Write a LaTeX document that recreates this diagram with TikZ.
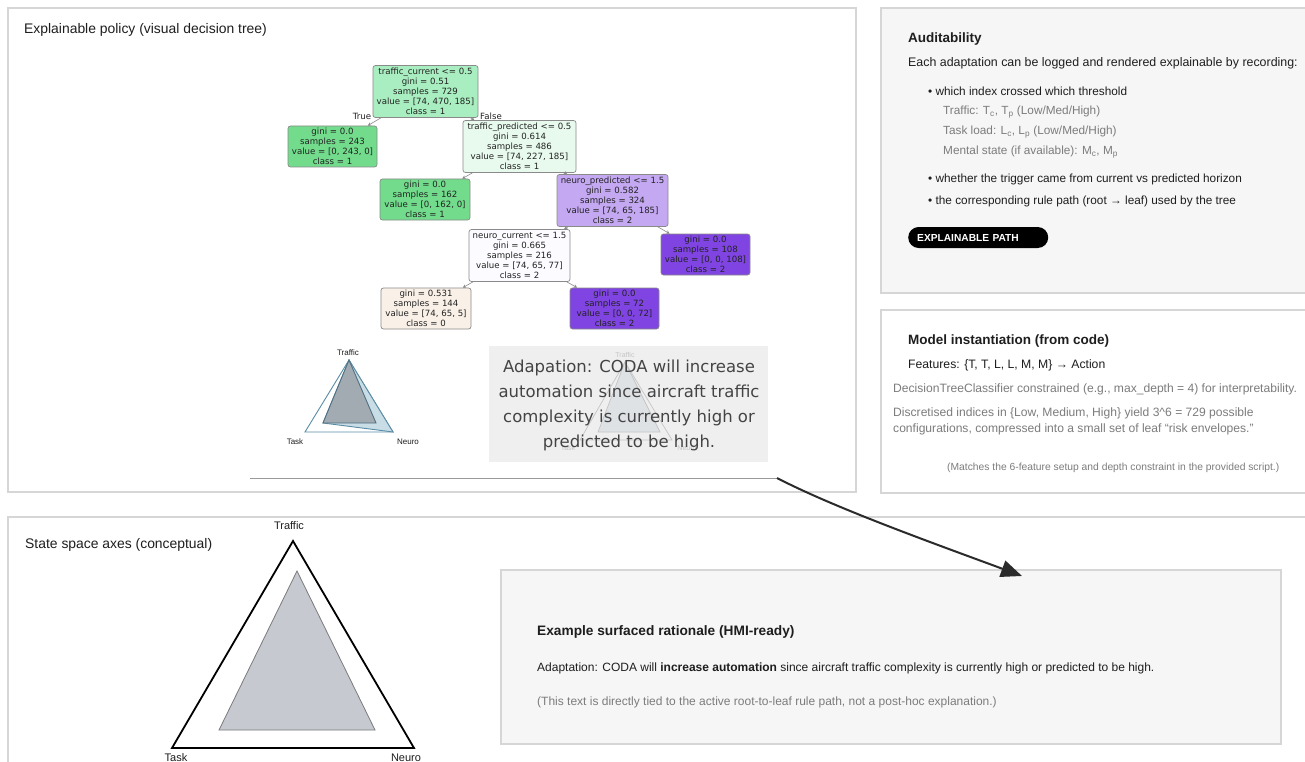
\documentclass[tikz,border=0pt]{standalone}
\usepackage{fontspec}
\setmainfont{Liberation Sans}
\newfontfamily\treefont{DejaVu Sans}
\usetikzlibrary{arrows.meta}
\definecolor{panelborder}{HTML}{D6D6D6}
\definecolor{panelfill}{HTML}{F6F6F6}
\definecolor{darktext}{HTML}{1E1E1E}
\definecolor{greytext}{HTML}{7C7C7C}
\definecolor{treeborder}{HTML}{8A8A8A}
\definecolor{treetext}{HTML}{222222}
\definecolor{leafgreen}{HTML}{72DC8C}
\definecolor{rootgreen}{HTML}{A9EEC0}
\definecolor{palegreen}{HTML}{E8FAEE}
\definecolor{lilac}{HTML}{C4A8F2}
\definecolor{offwhite}{HTML}{FCFBFF}
\definecolor{purpleleaf}{HTML}{8044E2}
\definecolor{beige}{HTML}{F9F0E8}
\definecolor{radarblue}{HTML}{5A8DA5}
\definecolor{radarfill}{HTML}{C9DDE6}
\definecolor{radargrey}{HTML}{A3ABB2}
\definecolor{radaredge}{HTML}{4F6F80}
\definecolor{overlayfill}{HTML}{EFEFEF}
\definecolor{overlaytext}{HTML}{444444}
\definecolor{ghost}{HTML}{C4C4C4}
\definecolor{ghostfill}{HTML}{DFE2E5}
\definecolor{statefill}{HTML}{C6CAD0}
\definecolor{stateedge}{HTML}{7A7A7A}
\definecolor{arrowdark}{HTML}{2B2B2B}
\definecolor{rulegrey}{HTML}{9A9A9A}
\begin{document}
\begin{tikzpicture}[x=1pt,y=-1pt,
  panel/.style={draw=panelborder, line width=1.6pt},
  treebox/.style={draw=treeborder, line width=0.7pt, rounded corners=2.5pt, inner sep=0pt, align=center, font=\treefont\fontsize{8.6}{9.9}\selectfont, text=treetext},
  decision/.style={treebox, minimum height=52pt},
  leafbox/.style={treebox, minimum height=41pt, minimum width=89pt},
  treeedge/.style={draw=treeborder, line width=0.6pt, -{Stealth[length=3.5pt,width=3.5pt]}},
  edgelabel/.style={inner sep=0pt, font=\treefont\fontsize{8.6}{9}\selectfont, text=treetext},
  txt/.style={anchor=west, inner sep=0pt, text=darktext},
  greytxt/.style={anchor=west, inner sep=0pt, text=greytext},
  paneltitle/.style={txt, font=\fontsize{13.9}{16}\selectfont},
  boldtitle/.style={txt, font=\bfseries\fontsize{13.5}{16}\selectfont},
  body/.style={txt, font=\fontsize{11.8}{14}\selectfont},
  radarlabel/.style={inner sep=0pt, font=\fontsize{8}{9}\selectfont, text=darktext},
  ghostlabel/.style={inner sep=0pt, font=\fontsize{7}{8}\selectfont, text=ghost},
  axislabel/.style={inner sep=0pt, font=\fontsize{11}{13}\selectfont, text=darktext}
]
\useasboundingbox (0,0) rectangle (1305,762);
\fill[white] (0,0) rectangle (1305,762);

% ---------- panels ----------
\draw[panel, fill=white] (8,8) rectangle (856,492);
\draw[panel, fill=panelfill] (881,8) rectangle (1312,293);
\draw[panel, fill=white] (881,310) rectangle (1312,493);
\draw[panel, fill=white] (8,517) rectangle (1312,775);

% ---------- top-left panel ----------
\node[paneltitle] (t1) at (24,30) {Explainable policy (visual decision tree)};

% decision tree
\node[decision, fill=rootgreen, minimum width=105pt] (root) at (425.5,91.5)
  {traffic\_current <= 0.5\\gini = 0.51\\samples = 729\\value = [74, 470, 185]\\class = 1};
\node[leafbox, fill=leafgreen] (leafA) at (332.5,146.5)
  {gini = 0.0\\samples = 243\\value = [0, 243, 0]\\class = 1};
\node[decision, fill=palegreen, minimum width=113pt] (tpred) at (519.5,146.5)
  {traffic\_predicted <= 0.5\\gini = 0.614\\samples = 486\\value = [74, 227, 185]\\class = 1};
\node[leafbox, fill=leafgreen, minimum width=90pt] (leafB) at (425,199.5)
  {gini = 0.0\\samples = 162\\value = [0, 162, 0]\\class = 1};
\node[decision, fill=lilac, minimum width=111pt] (npred) at (612.5,200.5)
  {neuro\_predicted <= 1.5\\gini = 0.582\\samples = 324\\value = [74, 65, 185]\\class = 2};
\node[decision, fill=offwhite, minimum width=101pt] (ncur) at (519.5,255.5)
  {neuro\_current <= 1.5\\gini = 0.665\\samples = 216\\value = [74, 65, 77]\\class = 2};
\node[leafbox, fill=purpleleaf] (leafC) at (705.5,254.5)
  {gini = 0.0\\samples = 108\\value = [0, 0, 108]\\class = 2};
\node[leafbox, fill=beige, minimum width=90pt] (leafD) at (426,308.5)
  {gini = 0.531\\samples = 144\\value = [74, 65, 5]\\class = 0};
\node[leafbox, fill=purpleleaf] (leafE) at (614.5,308.5)
  {gini = 0.0\\samples = 72\\value = [0, 0, 72]\\class = 2};

\draw[treeedge] (root) -- (leafA);
\draw[treeedge] (root) -- (tpred);
\draw[treeedge] (tpred) -- (leafB);
\draw[treeedge] (tpred) -- (npred);
\draw[treeedge] (npred) -- (ncur);
\draw[treeedge] (npred) -- (leafC);
\draw[treeedge] (ncur) -- (leafD);
\draw[treeedge] (ncur) -- (leafE);
\node[edgelabel] (truelab) at (362,116) {True};
\node[edgelabel] (falselab) at (491,116) {False};

% small radar
\draw[radarblue, line width=0.9pt, fill=white] (349,360) -- (305,432) -- (393,432) -- cycle;
\draw[radarblue, line width=0.9pt, fill=radarfill] (349,360) -- (323,423) -- (393,432) -- cycle;
\draw[radaredge, line width=0.9pt, fill=radargrey] (349,360) -- (323,423) -- (376,423) -- cycle;
\node[radarlabel] (rtraffic) at (348,353) {Traffic};
\node[radarlabel] (rtask) at (295,442) {Task};
\node[radarlabel] (rneuro) at (408,442) {Neuro};

% overlay box
\fill[overlayfill] (489,346) rectangle (768,462);
\draw[ghost, line width=0.7pt] (625,362) -- (580,440) -- (672,440) -- cycle;
\draw[ghost, line width=0.7pt, fill=ghostfill] (625,362) -- (598,432) -- (660,432) -- cycle;
\node[ghostlabel] (gtraffic) at (625,355) {Traffic};
\node[ghostlabel] (gtask) at (568,448) {Task};
\node[ghostlabel] (gneuro) at (687,448) {Neuro};
\node[inner sep=0pt, align=center, text=overlaytext, font=\treefont\fontsize{16.5}{25}\selectfont] (overlay) at (629,405)
  {Adapation: CODA will increase\\automation since aircraft traffic\\complexity is currently high or\\predicted to be high.};

% rule under the tree image
\coordinate (rulestart) at (250,478);
\coordinate (ruleend) at (777,478);
\draw[rulegrey, line width=1pt] (rulestart) -- (ruleend);

% ---------- Auditability ----------
\node[boldtitle] (audtitle) at (908,39) {Auditability};
\node[txt, font=\fontsize{12.4}{14}\selectfont] (audline) at (908,63) {Each adaptation can be logged and rendered explainable by recording:};
\node[body] (b1) at (928,91) {\textbullet\ which index crossed which threshold};
\node[greytxt, font=\fontsize{11.8}{14}\selectfont] (s1) at (943,112) {Traffic: T\textsubscript{c}, T\textsubscript{p} (Low/Med/High)};
\node[greytxt, font=\fontsize{11.8}{14}\selectfont] (s2) at (943,132) {Task load: L\textsubscript{c}, L\textsubscript{p} (Low/Med/High)};
\node[greytxt, font=\fontsize{11.8}{14}\selectfont] (s3) at (943,152) {Mental state (if available): M\textsubscript{c}, M\textsubscript{p}};
\node[body] (b2) at (928,179) {\textbullet\ whether the trigger came from current vs predicted horizon};
\node[body] (b3) at (928,201) {\textbullet\ the corresponding rule path (root → leaf) used by the tree};
\node[anchor=west, fill=black, rounded corners=10.5pt, minimum height=21pt, minimum width=138pt, text width=122pt, inner xsep=9pt, inner ysep=0pt, align=left, text=white, font=\bfseries\fontsize{10.2}{12}\selectfont] (pill) at (908,237.5) {EXPLAINABLE PATH};

% ---------- Model instantiation ----------
\node[boldtitle] (modtitle) at (908,341) {Model instantiation (from code)};
\node[txt, font=\fontsize{12.2}{14}\selectfont] (feat) at (908,365) {Features: \{T, T, L, L, M, M\} → Action};
\node[greytxt, font=\fontsize{12.1}{14}\selectfont] (m1) at (893,389) {DecisionTreeClassifier constrained (e.g., max\_depth = 4) for interpretability.};
\node[greytxt, align=left, font=\fontsize{12.1}{16}\selectfont] (m2) at (893,421) {Discretised indices in \{Low, Medium, High\} yield 3\textasciicircum 6 = 729 possible\\configurations, compressed into a small set of leaf “risk envelopes.”};
\node[greytxt, font=\fontsize{10.3}{12}\selectfont] (m3) at (947,468) {(Matches the 6-feature setup and depth constraint in the provided script.)};

% ---------- State space ----------
\node[paneltitle] (t2) at (25,545) {State space axes (conceptual)};
\draw[black, line width=1.8pt, fill=white, line join=miter] (293,541) -- (172,748) -- (414,748) -- cycle;
\draw[stateedge, line width=0.8pt, fill=statefill] (297,571) -- (219,730) -- (375,730) -- cycle;
\node[axislabel] (atraffic) at (289,526) {Traffic};
\node[axislabel] (atask) at (176,758) {Task};
\node[axislabel] (aneuro) at (406,758) {Neuro};

% ---------- Rationale box ----------
\node[draw=panelborder, line width=1.6pt, fill=panelfill, minimum width=780pt, minimum height=174pt, anchor=north west, inner sep=0pt] (rationale) at (500,569) {};
\node[txt, font=\bfseries\fontsize{13.7}{16}\selectfont] (rtitle) at (537,632) {Example surfaced rationale (HMI-ready)};
\node[txt, font=\fontsize{12}{14}\selectfont] (rbody) at (537,668) {Adaptation: CODA will \textbf{increase automation} since aircraft traffic complexity is currently high or predicted to be high.};
\node[greytxt, font=\fontsize{12}{14}\selectfont] (rnote) at (537,702) {(This text is directly tied to the active root-to-leaf rule path, not a post-hoc explanation.)};

% ---------- arrow ----------
\coordinate (arrtip) at (1022,576);
\draw[arrowdark, line width=2pt, -{Triangle[length=21pt,width=17pt]}] (ruleend) .. controls (835,508) and (930,542) .. (arrtip);
\end{tikzpicture}
\end{document}
